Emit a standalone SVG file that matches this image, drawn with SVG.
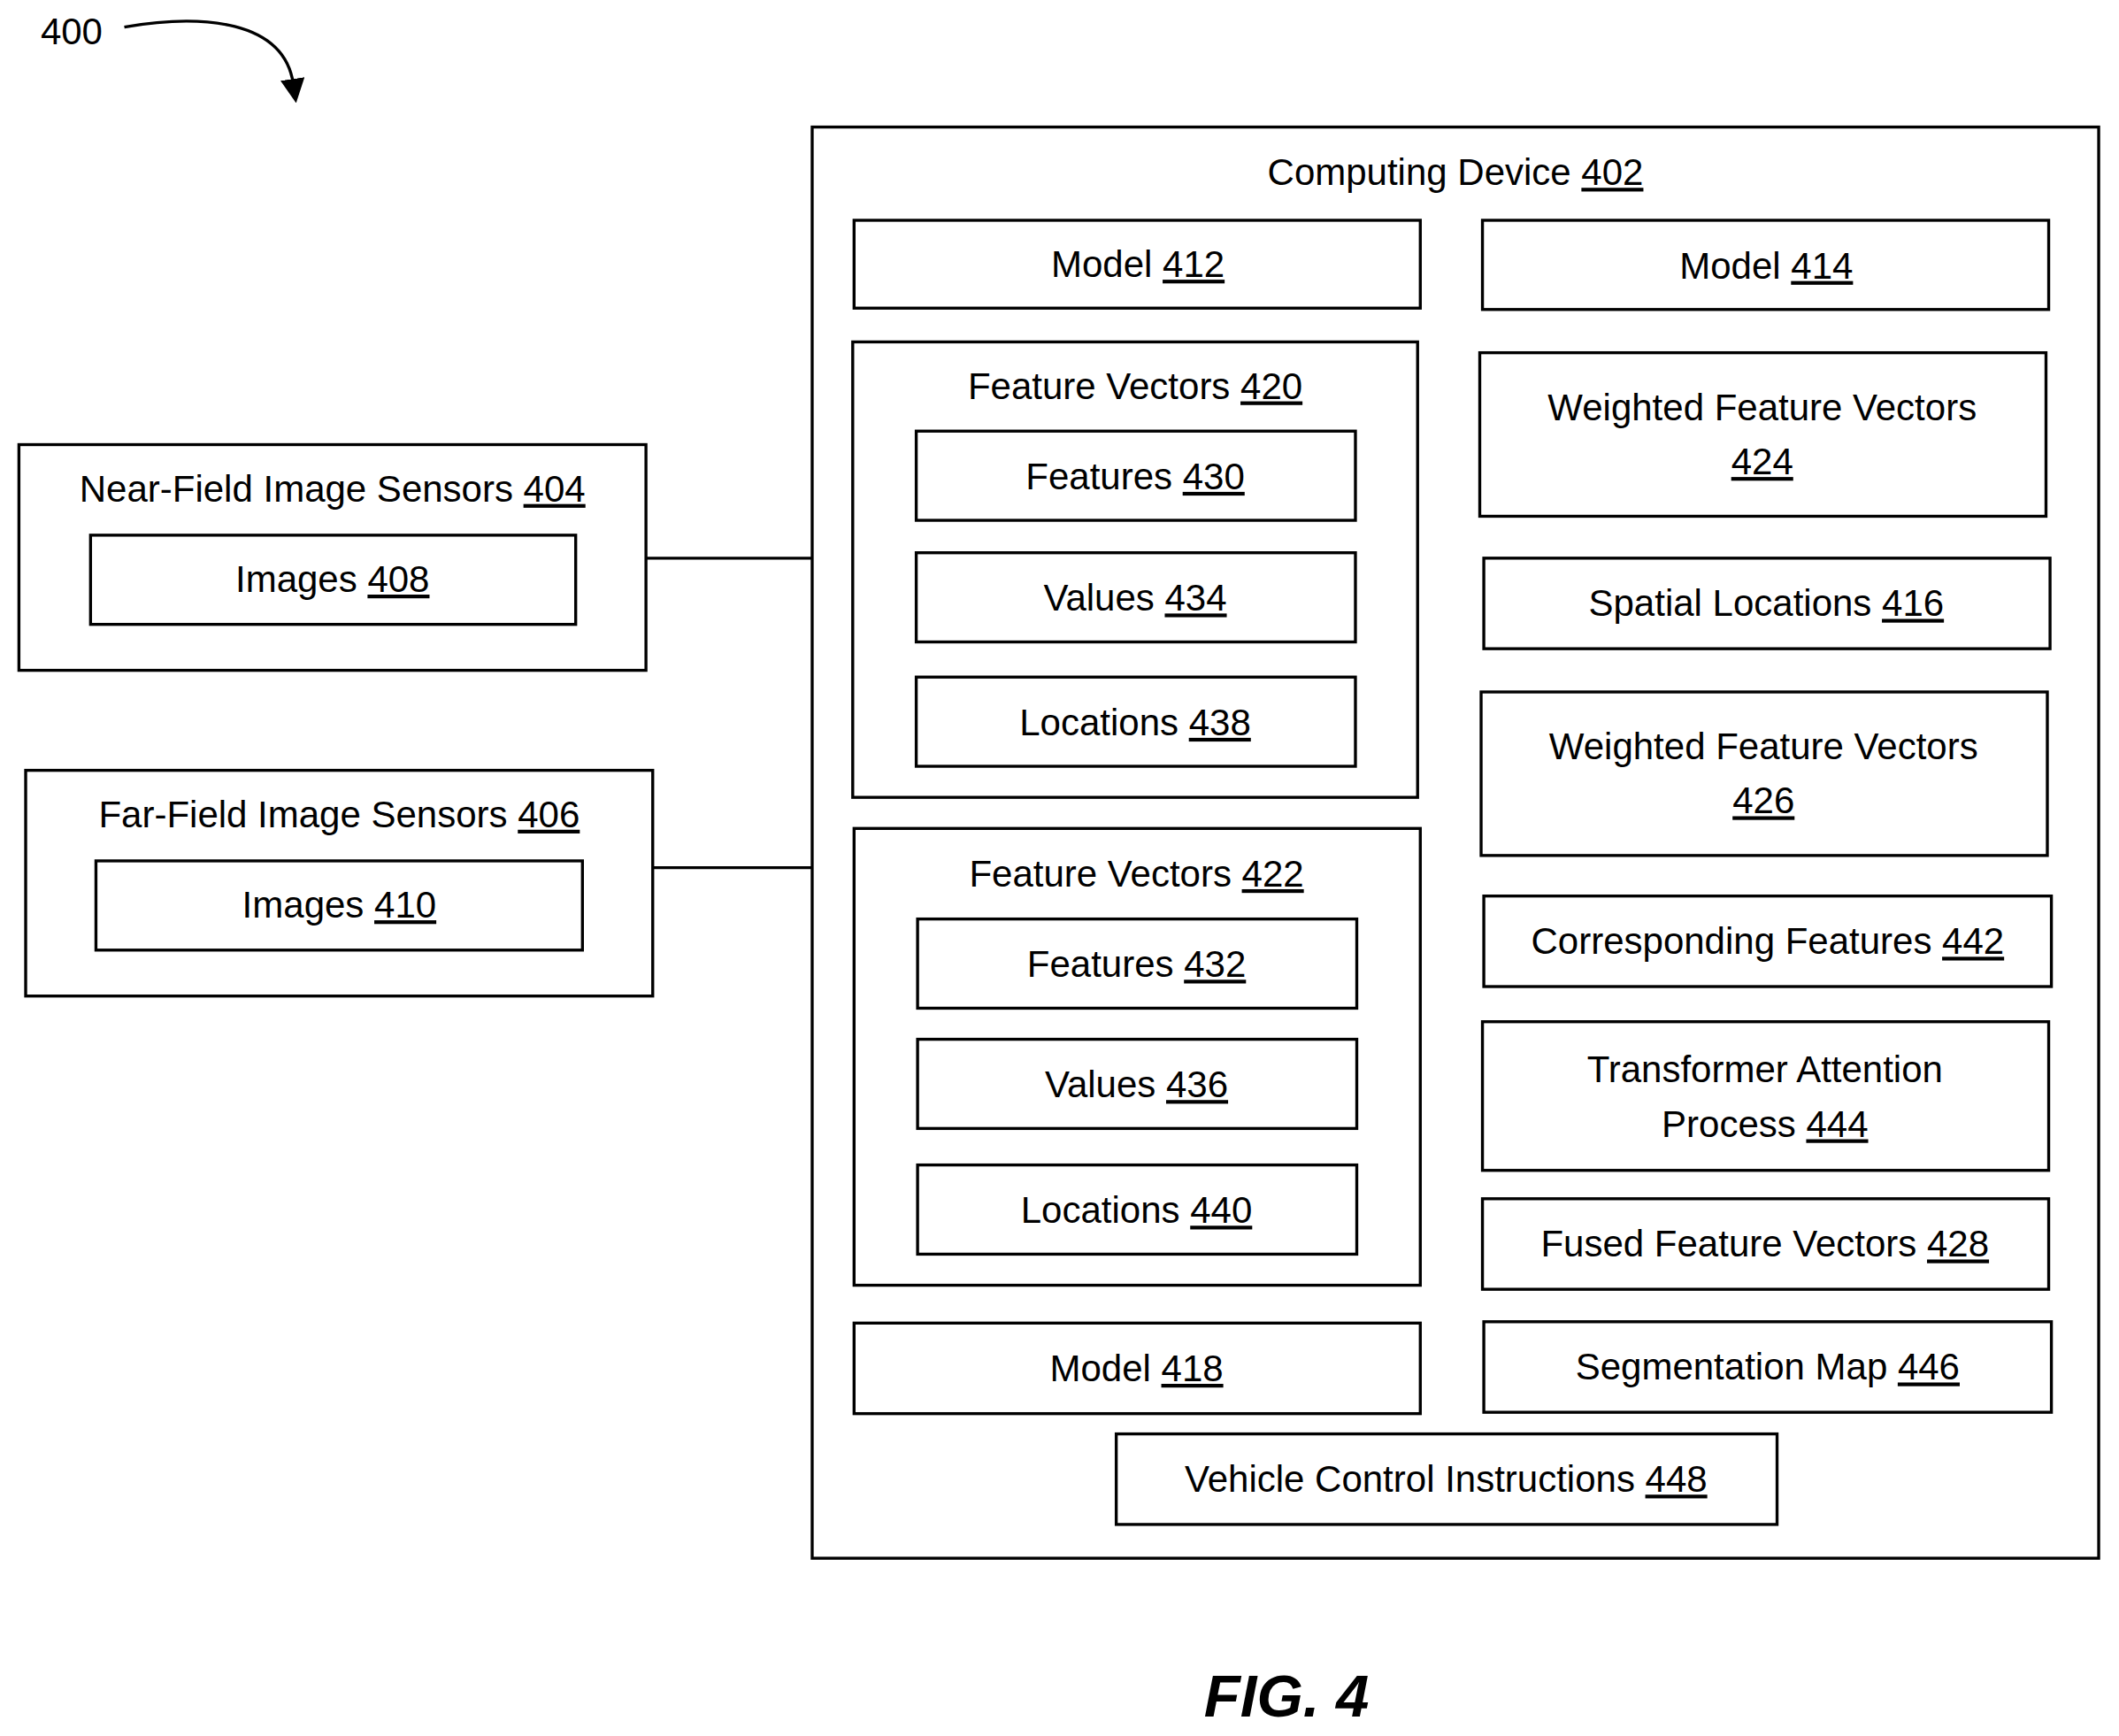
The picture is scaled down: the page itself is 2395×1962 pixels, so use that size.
<svg xmlns="http://www.w3.org/2000/svg" width="2395" height="1962" viewBox="0 0 2395 1962">
<style>
rect{fill:none;stroke:#000;stroke-width:2.2}
text{font-family:"Liberation Sans",Arial,sans-serif;font-size:27.5px;text-anchor:middle;fill:#000}
.u{text-decoration:underline}
line,path{stroke:#000;stroke-width:2.2;fill:none}
path.head{fill:#000;stroke:none}
</style>
<defs><marker id="ah" viewBox="0 0 10 10" refX="2" refY="5" markerWidth="18" markerHeight="18" markerUnits="userSpaceOnUse" orient="auto"><path class="head" d="M0,0 L10,5 L0,10 z"/></marker></defs>
<rect x="0" y="0" width="2395" height="1962" style="fill:#fff;stroke:none"/>
<g transform="scale(1.5274)">
<g id="label400"><text x="53" y="33">400</text><path d="M92,20 C150,10 210,15 217,62" marker-end="url(#ah)"/></g>
<g id="connectors"><line x1="478" y1="413" x2="601" y2="413"/><line x1="483" y1="642" x2="601" y2="642"/></g>
<g id="n402"><rect x="601" y="94" width="952" height="1059"/><text x="1077" y="137">Computing Device <tspan class="u">402</tspan></text></g>
<g id="n412"><rect x="632" y="163" width="419" height="65"/><text x="842" y="205">Model <tspan class="u">412</tspan></text></g>
<g id="n414"><rect x="1097" y="163" width="419" height="66"/><text x="1307" y="206">Model <tspan class="u">414</tspan></text></g>
<g id="n420"><rect x="631" y="253" width="418" height="337"/><text x="840" y="295">Feature Vectors <tspan class="u">420</tspan></text></g>
<g id="n430"><rect x="678" y="319" width="325" height="66"/><text x="840" y="362">Features <tspan class="u">430</tspan></text></g>
<g id="n434"><rect x="678" y="409" width="325" height="66"/><text x="840" y="452">Values <tspan class="u">434</tspan></text></g>
<g id="n438"><rect x="678" y="501" width="325" height="66"/><text x="840" y="544">Locations <tspan class="u">438</tspan></text></g>
<g id="n422"><rect x="632" y="613" width="419" height="338"/><text x="841" y="656">Feature Vectors <tspan class="u">422</tspan></text></g>
<g id="n432"><rect x="679" y="680" width="325" height="66"/><text x="841" y="723">Features <tspan class="u">432</tspan></text></g>
<g id="n436"><rect x="679" y="769" width="325" height="66"/><text x="841" y="812">Values <tspan class="u">436</tspan></text></g>
<g id="n440"><rect x="679" y="862" width="325" height="66"/><text x="841" y="905">Locations <tspan class="u">440</tspan></text></g>
<g id="n418"><rect x="632" y="979" width="419" height="67"/><text x="841" y="1022">Model <tspan class="u">418</tspan></text></g>
<g id="n424"><rect x="1095" y="261" width="419" height="121"/><text x="1304" y="311">Weighted Feature Vectors</text><text x="1304" y="351" class="u">424</text></g>
<g id="n416"><rect x="1098" y="413" width="419" height="67"/><text x="1307" y="456">Spatial Locations <tspan class="u">416</tspan></text></g>
<g id="n426"><rect x="1096" y="512" width="419" height="121"/><text x="1305" y="562">Weighted Feature Vectors</text><text x="1305" y="602" class="u">426</text></g>
<g id="n442"><rect x="1098" y="663" width="420" height="67"/><text x="1308" y="706">Corresponding Features <tspan class="u">442</tspan></text></g>
<g id="n444"><rect x="1097" y="756" width="419" height="110"/><text x="1306" y="801">Transformer Attention</text><text x="1306" y="841">Process <tspan class="u">444</tspan></text></g>
<g id="n428"><rect x="1097" y="887" width="419" height="67"/><text x="1306" y="930">Fused Feature Vectors <tspan class="u">428</tspan></text></g>
<g id="n446"><rect x="1098" y="978" width="420" height="67"/><text x="1308" y="1021">Segmentation Map <tspan class="u">446</tspan></text></g>
<g id="n448"><rect x="826" y="1061" width="489" height="67"/><text x="1070" y="1104">Vehicle Control Instructions <tspan class="u">448</tspan></text></g>
<g id="n404"><rect x="14" y="329" width="464" height="167"/><text x="246" y="371">Near-Field Image Sensors <tspan class="u">404</tspan></text></g>
<g id="n408"><rect x="67" y="396" width="359" height="66"/><text x="246" y="438">Images <tspan class="u">408</tspan></text></g>
<g id="n406"><rect x="19" y="570" width="464" height="167"/><text x="251" y="612">Far-Field Image Sensors <tspan class="u">406</tspan></text></g>
<g id="n410"><rect x="71" y="637" width="360" height="66"/><text x="251" y="679">Images <tspan class="u">410</tspan></text></g>
<text x="952" y="1270" style="font-size:44px;font-style:italic;font-weight:bold">FIG. 4</text>
</g>
</svg>
